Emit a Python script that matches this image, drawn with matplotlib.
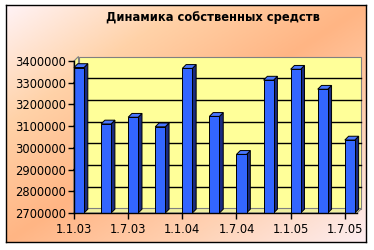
import numpy as np
import matplotlib
matplotlib.use("Agg")
import matplotlib.pyplot as plt
from matplotlib.patches import Polygon
from matplotlib.transforms import IdentityTransform
from matplotlib.colors import LinearSegmentedColormap

# ---- data ----
quarters = ['1.1.03', '1.4.03', '1.7.03', '1.10.03', '1.1.04', '1.4.04',
            '1.7.04', '1.10.04', '1.1.05', '1.4.05', '1.7.05']
values = [3370000, 3110000, 3141000, 3097000, 3366000, 3145000,
          2970000, 3312000, 3362000, 3270000, 3036000]
y_ticks = [2700000, 2800000, 2900000, 3000000, 3100000, 3200000, 3300000, 3400000]
title = 'Динамика собственных средств'

W, H = 374, 250
fig = plt.figure(figsize=(W / 100, H / 100), dpi=100)
fig.patch.set_facecolor('white')

# ---- background panel with gradient ----
bx0, by0, bx1, by1 = 6, 5, 366, 242
bg = fig.add_axes([bx0 / W, 1 - by1 / H, (bx1 - bx0) / W, (by1 - by0) / H])
u = np.linspace(0, 1, 300)[None, :]
v = np.linspace(0, 1, 200)[:, None]
t = (u + v) / 2
cmap = LinearSegmentedColormap.from_list(
    'peach', [(0.0, '#FFF3F6'), (0.25, '#FFD2A8'), (0.5, '#FFB584'),
              (0.75, '#FFD2B4'), (1.0, '#FDEDF0')])
bg.imshow(t, cmap=cmap, aspect='auto', extent=[0, 1, 0, 1], origin='upper',
          vmin=0, vmax=1, interpolation='bilinear')
bg.set_xticks([]); bg.set_yticks([])
for s in bg.spines.values():
    s.set_color('black'); s.set_linewidth(1.0)

fig.text(213 / W, 1 - 17.5 / H, title, ha='center', va='center',
         fontsize=8.3, fontweight='bold', family='DejaVu Sans', color='black')

# ---- main axes (front plane) ----
ax_l, ax_r, ax_t, ax_b = 74, 357, 61, 213
ax = fig.add_axes([ax_l / W, 1 - ax_b / H, (ax_r - ax_l) / W, (ax_b - ax_t) / H])
ax.patch.set_alpha(0)
xmax = 10.45
ymin, ymax = y_ticks[0], y_ticks[-1]
ax.set_xlim(0, xmax)
ax.set_ylim(ymin, ymax)
for s in ['top', 'right']:
    ax.spines[s].set_visible(False)
for s in ['left', 'bottom']:
    ax.spines[s].set_color('black'); ax.spines[s].set_linewidth(1.0)
    ax.spines[s].set_zorder(10)

ax.set_yticks(y_ticks)
ax.set_yticklabels([str(v_) for v_ in y_ticks])
xt = list(range(0, len(quarters), 2))
ax.set_xticks(xt)
ax.set_xticklabels([quarters[i] for i in xt])
ax.tick_params(axis='both', length=4, width=1, color='black', labelsize=8.3,
               labelcolor='black')
ax.tick_params(axis='y', pad=2)
ax.tick_params(axis='x', pad=3)

dx, dy = 4.5, 4.5  # wall depth in pixels
bd = 3.8           # bar depth in pixels
T = ax.transData
ident = IdentityTransform()

def P(x, y, ox=0.0, oy=0.0):
    px, py = T.transform((x, y))
    return (px + ox, py + oy)

wall_col = '#FFFF99'
# back wall
ax.add_patch(Polygon([P(0, ymin, dx, dy), P(xmax, ymin, dx, dy),
                      P(xmax, ymax, dx, dy), P(0, ymax, dx, dy)],
                     closed=True, transform=ident, facecolor=wall_col,
                     edgecolor='#808080', lw=0.8, zorder=1, clip_on=False))
# side wall
ax.add_patch(Polygon([P(0, ymin), P(0, ymax), P(0, ymax, dx, dy), P(0, ymin, dx, dy)],
                     closed=True, transform=ident, facecolor=wall_col,
                     edgecolor='#808080', lw=0.8, zorder=1, clip_on=False))
# floor
ax.add_patch(Polygon([P(0, ymin), P(xmax, ymin), P(xmax, ymin, dx, dy), P(0, ymin, dx, dy)],
                     closed=True, transform=ident, facecolor='#F0F0A0',
                     edgecolor='#808080', lw=0.8, zorder=1, clip_on=False))
# gridlines
for yv in y_ticks[1:-1]:
    x0, y0 = P(0, yv, dx, dy)
    x1, y1 = P(xmax, yv, dx, dy)
    ax.plot([x0, x1], [y0, y1], color='black', lw=1.0, transform=ident,
            zorder=2, clip_on=False)
    xa, ya = P(0, yv)
    ax.plot([xa, x0], [ya, y0], color='black', lw=1.0, transform=ident,
            zorder=2, clip_on=False)

# bars
bw = 0.37
front_c, side_c, top_c = '#3366FF', '#1A2B80', '#4A78FF'
bars = ax.bar(range(len(values)), [v_ - ymin for v_ in values], bottom=ymin,
              width=bw, align='edge', color=front_c, edgecolor='black',
              linewidth=0.7, zorder=4, clip_on=False)
for i, v_ in enumerate(values):
    side = [P(i + bw, ymin), P(i + bw, v_), P(i + bw, v_, bd, bd), P(i + bw, ymin, bd, bd)]
    ax.add_patch(Polygon(side, closed=True, transform=ident, facecolor=side_c,
                         edgecolor='black', lw=0.7, zorder=3, clip_on=False))
    top = [P(i, v_), P(i + bw, v_), P(i + bw, v_, bd, bd), P(i, v_, bd, bd)]
    ax.add_patch(Polygon(top, closed=True, transform=ident, facecolor=top_c,
                         edgecolor='black', lw=0.7, zorder=3, clip_on=False))

fig.savefig('out.png', dpi=100)
